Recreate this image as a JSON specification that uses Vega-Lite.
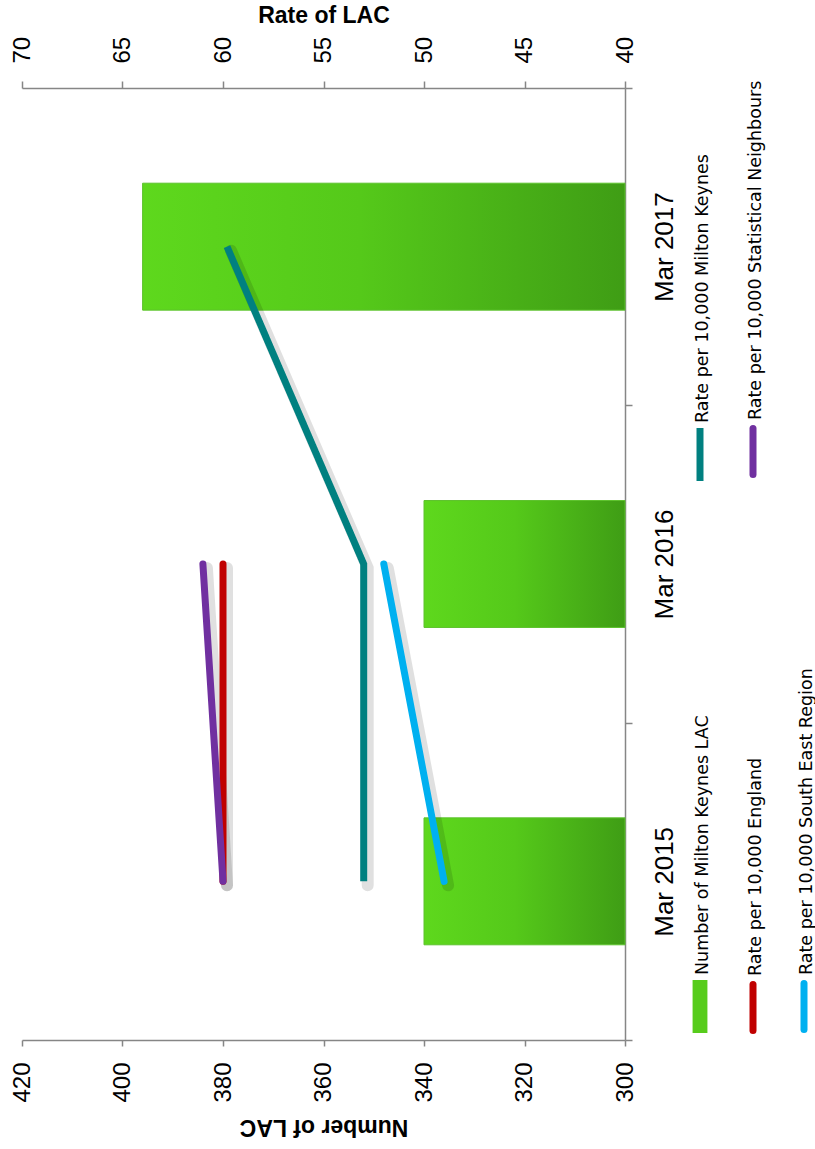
{
  "$schema": "https://vega.github.io/schema/vega-lite/v6.json",
  "width": 603,
  "height": 952,
  "autosize": {"type": "none"},
  "padding": {"left": 22, "top": 88, "right": 190, "bottom": 109},
  "background": "white",
  "config": {
    "view": {"stroke": null},
    "axis": {"labelFont": "Liberation Sans", "titleFont": "Liberation Sans"}
  },
  "datasets": {
    "lac": [
      {"year": "Mar 2015", "series": "Number of Milton Keynes LAC", "count": 340},
      {"year": "Mar 2016", "series": "Number of Milton Keynes LAC", "count": 340},
      {"year": "Mar 2017", "series": "Number of Milton Keynes LAC", "count": 396}
    ],
    "rates": [
      {"year": "Mar 2015", "series": "Rate per 10,000 Milton Keynes", "rate": 53},
      {"year": "Mar 2016", "series": "Rate per 10,000 Milton Keynes", "rate": 53},
      {"year": "Mar 2017", "series": "Rate per 10,000 Milton Keynes", "rate": 59.8},
      {"year": "Mar 2015", "series": "Rate per 10,000 England", "rate": 60},
      {"year": "Mar 2016", "series": "Rate per 10,000 England", "rate": 60},
      {"year": "Mar 2015", "series": "Rate per 10,000 Statistical Neighbours", "rate": 60},
      {"year": "Mar 2016", "series": "Rate per 10,000 Statistical Neighbours", "rate": 61},
      {"year": "Mar 2015", "series": "Rate per 10,000 South East Region", "rate": 49},
      {"year": "Mar 2016", "series": "Rate per 10,000 South East Region", "rate": 52}
    ]
  },
  "encoding": {
    "y": {
      "field": "year",
      "type": "nominal",
      "scale": {"domain": ["Mar 2017", "Mar 2016", "Mar 2015"], "paddingInner": 0, "paddingOuter": 0},
      "axis": {
        "orient": "right", "title": null, "tickBand": "extent",
        "labelAngle": 270, "labelAlign": "center", "labelBaseline": "top",
        "labelFontSize": 26, "labelColor": "#000000", "labelPadding": 19,
        "tickSize": 7, "tickColor": "#868686", "tickWidth": 1.5,
        "domainColor": "#868686", "domainWidth": 1.5, "grid": false
      }
    }
  },
  "layer": [
    {
      "data": {"name": "lac"},
      "mark": {
        "type": "bar",
        "height": {"band": 0.4},
        "fill": {
          "x1": 0, "y1": 0, "x2": 1, "y2": 0, "gradient": "linear",
          "stops": [
            {"offset": 0, "color": "#5ed81d"},
            {"offset": 0.45, "color": "#55c91a"},
            {"offset": 1, "color": "#3f9d15"}
          ]
        },
        "stroke": "#5cc22c",
        "strokeWidth": 1
      },
      "encoding": {
        "x": {
          "field": "count", "type": "quantitative",
          "scale": {"domain": [300, 420], "reverse": true, "zero": false, "nice": false},
          "axis": {
            "orient": "bottom", "title": "Number of LAC",
            "values": [300, 320, 340, 360, 380, 400, 420],
            "labelAngle": 270, "labelAlign": "right", "labelBaseline": "middle",
            "labelFlush": false, "labelOverlap": false,
            "labelFontSize": 24, "labelColor": "#000000", "labelPadding": 16,
            "tickSize": 6, "tickColor": "#868686", "tickWidth": 1.5,
            "domainColor": "#868686", "domainWidth": 1.5, "grid": false,
            "titleAngle": 180, "titleFontSize": 23, "titleFontWeight": "bold", "titleColor": "#000000",
            "titleY": 79, "titleBaseline": "alphabetic"
          }
        },
        "x2": {"datum": 300}
      }
    },
    {
      "data": {"name": "rates"},
      "encoding": {
        "x": {
          "field": "rate", "type": "quantitative",
          "scale": {"domain": [40, 70], "reverse": true, "zero": false, "nice": false},
          "axis": {
            "orient": "top", "title": "Rate of LAC",
            "values": [40, 45, 50, 55, 60, 65, 70],
            "labelAngle": 270, "labelAlign": "left", "labelBaseline": "middle",
            "labelFlush": false, "labelOverlap": false,
            "labelFontSize": 24, "labelColor": "#000000", "labelPadding": 18,
            "tickSize": 7, "tickColor": "#868686", "tickWidth": 1.5,
            "domainColor": "#868686", "domainWidth": 1.5, "grid": false,
            "titleFontSize": 23, "titleFontWeight": "bold", "titleColor": "#000000",
            "titleY": -66, "titleBaseline": "alphabetic"
          }
        }
      },
      "layer": [
        {
          "mark": {"type": "line", "stroke": "#000000", "strokeOpacity": 0.12, "strokeWidth": 12, "strokeCap": "round", "xOffset": 4, "yOffset": 4},
          "encoding": {"detail": {"field": "series", "type": "nominal"}}
        },
        {
          "transform": [{"filter": {"field": "series", "equal": "Rate per 10,000 Milton Keynes"}}],
          "mark": {"type": "line", "stroke": "#008080", "strokeWidth": 7, "strokeCap": "butt", "strokeJoin": "miter"},
          "encoding": {
            "strokeDash": {
              "field": "series", "type": "nominal",
              "scale": {"domain": ["Rate per 10,000 Milton Keynes", "Number of Milton Keynes LAC"], "range": [[1, 0], [1, 0]]},
              "legend": {
                "title": null, "orient": "none", "legendX": 651.5, "legendY": 340,
                "direction": "vertical", "padding": 0, "rowPadding": 234, "gridAlign": "each",
                "labelFont": "DejaVu Sans", "labelFontSize": 17.5, "labelColor": "#000000",
                "labelLimit": 1000, "labelOffset": 0, "labelAlign": "left", "labelBaseline": "middle",
                "symbolSize": 2809, "symbolStrokeWidth": 0,
                "symbolStrokeColor": "transparent", "symbolFillColor": "#008080",
                "encode": {
                  "symbols": {
                    "update": {
                      "shape": {"signal": "datum.value === 'Number of Milton Keynes LAC' ? 'M-0.28,-1H0.28V1H-0.28Z' : 'M-0.132,-1H0.132V1H-0.132Z'"},
                      "fill": {"signal": "datum.value === 'Number of Milton Keynes LAC' ? '#57cc1c' : '#008080'"},
                      "stroke": {"value": "transparent"},
                      "strokeWidth": {"value": 0},
                      "opacity": {"value": 1}
                    }
                  },
                  "labels": {"update": {"angle": {"value": -90}, "dx": {"value": 31.5}, "dy": {"value": -24}}}
                }
              }
            }
          }
        },
        {
          "transform": [{"filter": {"field": "series", "oneOf": ["Rate per 10,000 England", "Rate per 10,000 Statistical Neighbours"]}}],
          "mark": {"type": "line", "strokeWidth": 7, "strokeCap": "round"},
          "encoding": {
            "color": {
              "field": "series", "type": "nominal",
              "scale": {"domain": ["Rate per 10,000 Statistical Neighbours", "Rate per 10,000 England"], "range": ["#7030a0", "#c00000"]},
              "legend": {
                "title": null, "orient": "none", "legendX": 704.5, "legendY": 337,
                "direction": "vertical", "padding": 0, "rowPadding": 268, "gridAlign": "each",
                "labelFont": "DejaVu Sans", "labelFontSize": 17.5, "labelColor": "#000000",
                "labelLimit": 1000, "labelOffset": 0, "labelAlign": "left", "labelBaseline": "middle",
                "symbolType": "M0,-1L0,1", "symbolSize": 2116, "symbolStrokeWidth": 7,
                "encode": {
                  "symbols": {"update": {"strokeCap": {"value": "round"}, "strokeWidth": {"value": 7}}},
                  "labels": {"update": {"angle": {"value": -90}, "dx": {"value": 31.5}, "dy": {"value": -24}}}
                }
              }
            }
          }
        },
        {
          "transform": [{"filter": {"field": "series", "equal": "Rate per 10,000 South East Region"}}],
          "mark": {"type": "line", "stroke": "#00b0f0", "strokeCap": "round"},
          "encoding": {
            "strokeWidth": {
              "field": "series", "type": "ordinal",
              "scale": {"domain": ["Rate per 10,000 South East Region"], "range": [7, 7]},
              "legend": {
                "title": null, "orient": "none", "legendX": 755.5, "legendY": 892,
                "direction": "vertical", "padding": 0, "gridAlign": "each",
                "labelFont": "DejaVu Sans", "labelFontSize": 17.5, "labelColor": "#000000",
                "labelLimit": 1000, "labelOffset": 0, "labelAlign": "left", "labelBaseline": "middle",
                "symbolType": "M0,-1L0,1", "symbolSize": 2116, "symbolStrokeColor": "#00b0f0",
                "encode": {
                  "symbols": {"update": {"strokeCap": {"value": "round"}, "stroke": {"value": "#00b0f0"}}},
                  "labels": {"update": {"angle": {"value": -90}, "dx": {"value": 31.5}, "dy": {"value": -24}}}
                }
              }
            }
          }
        }
      ]
    }
  ],
  "resolve": {"scale": {"x": "independent"}}
}
